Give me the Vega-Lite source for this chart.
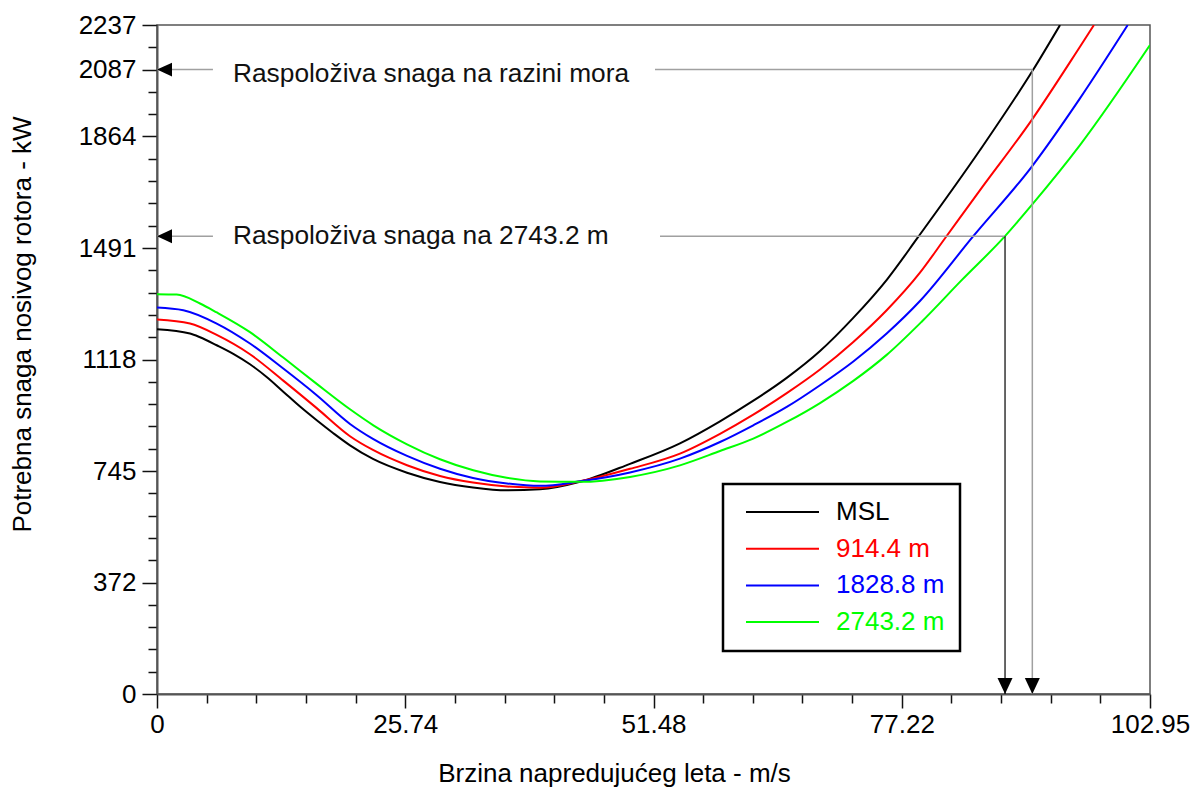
{
  "$schema": "https://vega.github.io/schema/vega-lite/v6.json",
  "width": 993,
  "height": 669,
  "autosize": {"type": "none"},
  "padding": {"left": 157, "top": 25, "right": 42, "bottom": 95},
  "background": "white",
  "config": {
    "font": "Liberation Sans",
    "view": {"stroke": "#555", "strokeWidth": 1.5},
    "axis": {"grid": false}
  },
  "datasets": {
    "curves": [
      {"s": "MSL", "v": 0, "p": 1219.8}, {"s": "MSL", "v": 3.42, "p": 1205.4}, {"s": "MSL", "v": 4.46, "p": 1193.0}, {"s": "MSL", "v": 6.19, "p": 1166.2}, {"s": "MSL", "v": 7.91, "p": 1137.4}, {"s": "MSL", "v": 9.64, "p": 1102.6}, {"s": "MSL", "v": 11.37, "p": 1060.1}, {"s": "MSL", "v": 13.09, "p": 1011}, {"s": "MSL", "v": 14.83, "p": 961}, {"s": "MSL", "v": 16.56, "p": 915.2}, {"s": "MSL", "v": 18.28, "p": 872}, {"s": "MSL", "v": 20.01, "p": 831.5}, {"s": "MSL", "v": 22.39, "p": 786}, {"s": "MSL", "v": 25.92, "p": 740}, {"s": "MSL", "v": 29.34, "p": 709}, {"s": "MSL", "v": 32.76, "p": 690.5}, {"s": "MSL", "v": 36.29, "p": 681.0}, {"s": "MSL", "v": 39.71, "p": 684.3}, {"s": "MSL", "v": 43.85, "p": 709.4}, {"s": "MSL", "v": 49.04, "p": 769.7}, {"s": "MSL", "v": 54.22, "p": 838.3}, {"s": "MSL", "v": 58.37, "p": 912}, {"s": "MSL", "v": 61.79, "p": 980}, {"s": "MSL", "v": 65.32, "p": 1058}, {"s": "MSL", "v": 68.74, "p": 1147}, {"s": "MSL", "v": 72.16, "p": 1257}, {"s": "MSL", "v": 75.68, "p": 1386}, {"s": "MSL", "v": 78.9, "p": 1527.6}, {"s": "MSL", "v": 85.33, "p": 1819}, {"s": "MSL", "v": 90.82, "p": 2086.5}, {"s": "MSL", "v": 93.62, "p": 2237},
      {"s": "914.4 m", "v": 0, "p": 1252.2}, {"s": "914.4 m", "v": 3.42, "p": 1238.8}, {"s": "914.4 m", "v": 6.19, "p": 1200.7}, {"s": "914.4 m", "v": 9.64, "p": 1136.1}, {"s": "914.4 m", "v": 13.09, "p": 1048}, {"s": "914.4 m", "v": 16.56, "p": 956}, {"s": "914.4 m", "v": 20.01, "p": 862}, {"s": "914.4 m", "v": 22.39, "p": 816}, {"s": "914.4 m", "v": 25.92, "p": 765}, {"s": "914.4 m", "v": 29.34, "p": 729}, {"s": "914.4 m", "v": 32.76, "p": 707}, {"s": "914.4 m", "v": 36.29, "p": 694}, {"s": "914.4 m", "v": 39.71, "p": 690}, {"s": "914.4 m", "v": 43.85, "p": 711.1}, {"s": "914.4 m", "v": 49.04, "p": 753}, {"s": "914.4 m", "v": 54.22, "p": 803.8}, {"s": "914.4 m", "v": 58.37, "p": 870}, {"s": "914.4 m", "v": 61.82, "p": 934}, {"s": "914.4 m", "v": 65.29, "p": 1006}, {"s": "914.4 m", "v": 68.74, "p": 1085}, {"s": "914.4 m", "v": 72.19, "p": 1177.3}, {"s": "914.4 m", "v": 75.65, "p": 1283.3}, {"s": "914.4 m", "v": 79.1, "p": 1409}, {"s": "914.4 m", "v": 81.7, "p": 1524}, {"s": "914.4 m", "v": 85.33, "p": 1685}, {"s": "914.4 m", "v": 90.68, "p": 1919.2}, {"s": "914.4 m", "v": 95.69, "p": 2164.5}, {"s": "914.4 m", "v": 97.14, "p": 2237},
      {"s": "1828.8 m", "v": 0, "p": 1292.4}, {"s": "1828.8 m", "v": 2.73, "p": 1283.3}, {"s": "1828.8 m", "v": 6.19, "p": 1238.8}, {"s": "1828.8 m", "v": 9.64, "p": 1171.9}, {"s": "1828.8 m", "v": 13.09, "p": 1088.2}, {"s": "1828.8 m", "v": 16.56, "p": 999}, {"s": "1828.8 m", "v": 20.01, "p": 903}, {"s": "1828.8 m", "v": 22.39, "p": 853}, {"s": "1828.8 m", "v": 25.92, "p": 796}, {"s": "1828.8 m", "v": 29.34, "p": 753}, {"s": "1828.8 m", "v": 32.76, "p": 722}, {"s": "1828.8 m", "v": 36.29, "p": 704}, {"s": "1828.8 m", "v": 39.71, "p": 696}, {"s": "1828.8 m", "v": 43.85, "p": 711.1}, {"s": "1828.8 m", "v": 49.04, "p": 741}, {"s": "1828.8 m", "v": 54.22, "p": 787.1}, {"s": "1828.8 m", "v": 58.37, "p": 842.6}, {"s": "1828.8 m", "v": 61.82, "p": 898.5}, {"s": "1828.8 m", "v": 65.29, "p": 959.8}, {"s": "1828.8 m", "v": 68.74, "p": 1032.4}, {"s": "1828.8 m", "v": 72.19, "p": 1112}, {"s": "1828.8 m", "v": 75.65, "p": 1205.4}, {"s": "1828.8 m", "v": 79.1, "p": 1314}, {"s": "1828.8 m", "v": 84.63, "p": 1531}, {"s": "1828.8 m", "v": 90.68, "p": 1762.9}, {"s": "1828.8 m", "v": 95.69, "p": 1991.8}, {"s": "1828.8 m", "v": 100.64, "p": 2237},
      {"s": "2743.2 m", "v": 0, "p": 1336.9}, {"s": "2743.2 m", "v": 2.04, "p": 1335.9}, {"s": "2743.2 m", "v": 4.46, "p": 1305.8}, {"s": "2743.2 m", "v": 6.19, "p": 1276}, {"s": "2743.2 m", "v": 9.64, "p": 1210}, {"s": "2743.2 m", "v": 13.09, "p": 1125}, {"s": "2743.2 m", "v": 16.56, "p": 1037.0}, {"s": "2743.2 m", "v": 20.01, "p": 952}, {"s": "2743.2 m", "v": 22.43, "p": 898.5}, {"s": "2743.2 m", "v": 25.92, "p": 835}, {"s": "2743.2 m", "v": 29.34, "p": 785}, {"s": "2743.2 m", "v": 32.79, "p": 748}, {"s": "2743.2 m", "v": 36.26, "p": 723}, {"s": "2743.2 m", "v": 39.71, "p": 711}, {"s": "2743.2 m", "v": 43.85, "p": 709.4}, {"s": "2743.2 m", "v": 49.04, "p": 726}, {"s": "2743.2 m", "v": 54.22, "p": 764.6}, {"s": "2743.2 m", "v": 58.37, "p": 812.5}, {"s": "2743.2 m", "v": 61.82, "p": 854.0}, {"s": "2743.2 m", "v": 65.29, "p": 909.6}, {"s": "2743.2 m", "v": 68.74, "p": 973}, {"s": "2743.2 m", "v": 72.19, "p": 1047}, {"s": "2743.2 m", "v": 75.65, "p": 1134}, {"s": "2743.2 m", "v": 79.28, "p": 1245}, {"s": "2743.2 m", "v": 83.4, "p": 1383}, {"s": "2743.2 m", "v": 87.92, "p": 1531}, {"s": "2743.2 m", "v": 90.68, "p": 1634.7}, {"s": "2743.2 m", "v": 95.69, "p": 1835.5}, {"s": "2743.2 m", "v": 102.95, "p": 2170.1}
    ],
    "grayRules": [
      {"v": 0, "v2": 5.8, "p": 2087.96, "p2": 2087.96},
      {"v": 51.63, "v2": 90.75, "p": 2087.96, "p2": 2087.96},
      {"v": 90.75, "v2": 90.75, "p": 2087.96, "p2": 0},
      {"v": 0, "v2": 5.8, "p": 1531, "p2": 1531},
      {"v": 52.15, "v2": 87.92, "p": 1531, "p2": 1531}
    ],
    "blackRules": [
      {"v": 87.92, "v2": 87.92, "p": 1531, "p2": 0}
    ],
    "labels": [
      {"v": 7.88, "p": 2047, "t": "Raspoloživa snaga na razini mora"},
      {"v": 7.88, "p": 1504, "t": "Raspoloživa snaga na 2743.2 m"}
    ],
    "leftArrows": [
      {"v": 0, "p": 2087.96},
      {"v": 0, "p": 1531}
    ],
    "downArrows": [
      {"v": 90.75, "p": 0},
      {"v": 87.92, "p": 0}
    ]
  },
  "encoding": {
    "x": {
      "field": "v", "type": "quantitative",
      "scale": {"domain": [0, 102.95], "nice": false, "zero": false},
      "axis": {
        "title": "Brzina napredujućeg leta - m/s",
        "values": [0, 5.1475, 10.295, 15.4425, 20.59, 25.74, 30.885, 36.0325, 41.18, 46.3275, 51.48, 56.6225, 61.77, 66.9175, 72.065, 77.22, 82.36, 87.5075, 92.655, 97.8025, 102.95],
        "labelExpr": "indexof([0,25.74,51.48,77.22,102.95], datum.value) >= 0 ? (datum.value == 0 ? '0' : format(datum.value, '.2f')) : ''",
        "tickSize": {"condition": {"test": "indexof([0,25.74,51.48,77.22,102.95], datum.value) >= 0", "value": 14}, "value": 9},
        "tickColor": "#111", "tickWidth": 1.5,
        "domainColor": "#555", "domainWidth": 2,
        "labelFontSize": 26, "labelColor": "#000", "labelPadding": 3.5,
        "labelFlush": false, "labelOverlap": false,
        "titleFontSize": 26, "titleFontWeight": "normal", "titleColor": "#000",
        "titleX": 457, "titleY": 87, "titleBaseline": "alphabetic", "titleAlign": "center"
      }
    },
    "y": {
      "field": "p", "type": "quantitative",
      "scale": {"domain": [0, 2237.1], "nice": false},
      "axis": {
        "title": "Potrebna snaga nosivog rotora - kW",
        "values": [0, 74.57, 149.14, 223.71, 298.28, 372.85, 447.42, 521.99, 596.56, 671.13, 745.7, 820.27, 894.84, 969.41, 1043.98, 1118.55, 1193.12, 1267.69, 1342.26, 1416.83, 1491.4, 1565.97, 1640.54, 1715.11, 1789.68, 1864.25, 1938.82, 2013.39, 2087.96, 2162.53, 2237.1],
        "labelExpr": "indexof([0,372.85,745.7,1118.55,1491.4,1864.25,2087.96,2237.1], datum.value) >= 0 ? floor(datum.value) + '' : ''",
        "tickSize": {"condition": {"test": "indexof([0,372.85,745.7,1118.55,1491.4,1864.25,2087.96,2237.1], datum.value) >= 0", "value": 15}, "value": 9},
        "tickColor": "#111", "tickWidth": 1.5,
        "domainColor": "#555", "domainWidth": 2,
        "labelFontSize": 26, "labelColor": "#000", "labelPadding": 6,
        "labelFlush": false, "labelOverlap": false,
        "titleFontSize": 26, "titleFontWeight": "normal", "titleColor": "#000",
        "titleX": -127, "titleY": 299, "titleBaseline": "alphabetic", "titleAngle": 270, "titleAlign": "center"
      }
    }
  },
  "layer": [
    {
      "data": {"name": "curves"},
      "mark": {"type": "line", "clip": true, "strokeWidth": 2, "interpolate": "monotone"},
      "encoding": {
        "color": {
          "field": "s", "type": "nominal",
          "scale": {"domain": ["MSL", "914.4 m", "1828.8 m", "2743.2 m"], "range": ["#000000", "#ff0000", "#0000ff", "#00ff00"]},
          "legend": {
            "title": null, "orient": "none", "legendX": 566, "legendY": 459,
            "symbolType": "M-0.5,0H6.8", "symbolSize": 400, "symbolStrokeWidth": 2,
            "labelFontSize": 26, "labelOffset": 72, "labelLimit": 400,
            "padding": 15, "rowPadding": 10.7,
            "strokeColor": "#000", "fillColor": "white",
            "encode": {
              "legend": {"update": {"strokeWidth": {"value": 2.5}}},
              "labels": {"update": {"fill": {"scale": "color", "field": "value"}}}
            }
          }
        }
      }
    },
    {
      "data": {"name": "grayRules"},
      "mark": {"type": "rule", "color": "#a0a0a0", "strokeWidth": 1.5},
      "encoding": {
        "x2": {"field": "v2"},
        "y2": {"field": "p2"}
      }
    },
    {
      "data": {"name": "blackRules"},
      "mark": {"type": "rule", "color": "#000000", "strokeWidth": 1.2},
      "encoding": {
        "x2": {"field": "v2"},
        "y2": {"field": "p2"}
      }
    },
    {
      "data": {"name": "labels"},
      "mark": {"type": "text", "align": "left", "baseline": "alphabetic", "fontSize": 26.3, "color": "#111"},
      "encoding": {
        "text": {"field": "t"}
      }
    },
    {
      "data": {"name": "leftArrows"},
      "mark": {"type": "point", "shape": "M0,0L2,-0.93L2,0.93Z", "size": 225, "filled": true, "opacity": 1, "color": "#000", "strokeWidth": 0},
      "encoding": {}
    },
    {
      "data": {"name": "downArrows"},
      "mark": {"type": "point", "shape": "M-1,-2.13L1,-2.13L0,0Z", "size": 225, "filled": true, "opacity": 1, "color": "#000", "strokeWidth": 0},
      "encoding": {}
    }
  ]
}
